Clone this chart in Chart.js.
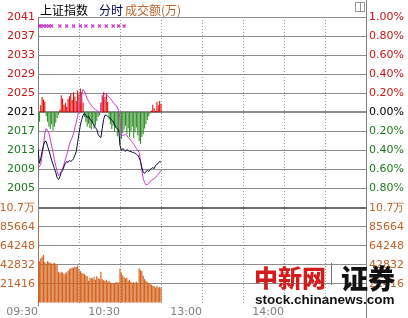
<!DOCTYPE html>
<html>
<head>
<meta charset="utf-8">
<script src="https://cdn.jsdelivr.net/npm/chart.js@4.4.1/dist/chart.umd.min.js"></script>
<style>
  body { margin: 0; background: #fff; }
  #wrap { position: relative; width: 408px; height: 318px; overflow: hidden; }
  #wrap canvas { position: absolute; left: 0; top: 0; }
  .t { position: absolute; white-space: nowrap; line-height: 1; }
</style>
</head>
<body>
<div id="wrap">
  <canvas id="fenshi" width="408" height="318"></canvas>
  <div class="t" style="left:40px;top:1px;font:12px 'Noto Sans CJK SC';color:#000;">上证指数</div>
  <div class="t" style="left:99px;top:1px;font:12px 'Noto Sans CJK SC';color:#00005a;">分时</div>
  <div class="t" style="left:125px;top:1px;font:12px 'Noto Sans CJK SC';color:#b8662e;">成交额(万)</div>
  <div class="t" style="left:254px;top:259px;font:900 24px 'Noto Sans CJK SC';color:#d41c1c;">中新网</div>
  <div class="t" style="left:331px;top:263px;width:1px;height:22px;background:#777;"></div>
  <div class="t" style="left:341px;top:258px;font:900 27px 'Noto Sans CJK SC';color:#111;">证券</div>
  <div class="t" style="left:255px;top:292px;font:bold 13.5px 'Liberation Sans';color:#111;">stock.chinanews.com</div>
</div>
<script>
// minutes after 09:30 (11:30 and 13:00 share the same slot)
const timeLabels = { 0: '09:30', 60: '10:30', 120: '13:00', 180: '14:00' };
const prevClose = 2021;

// 上证指数 (black line)
const indexLine = [
  2013.4, 2010.3, 2011.3, 2012.8, 2014.1, 2014.9, 2014.9, 2013.9, 2013.0, 2012.0,
  2010.9, 2010.1, 2009.2, 2008.4, 2007.3, 2006.9, 2007.5, 2008.4, 2008.8, 2009.6,
  2010.3, 2010.7, 2010.5, 2010.9, 2010.7, 2010.9, 2011.3, 2012.0, 2012.8, 2014.7,
  2016.6, 2018.3, 2019.5, 2020.4, 2020.8, 2020.4, 2019.9, 2020.2, 2019.5, 2019.3,
  2018.7, 2018.3, 2017.8, 2017.4, 2016.4, 2015.9, 2015.7, 2017.6, 2019.5, 2020.4,
  2020.4, 2020.2, 2019.9, 2019.7, 2019.3, 2019.1, 2018.5, 2017.8, 2017.6, 2017.4,
  2014.1, 2013.0, 2013.4, 2013.2, 2012.8, 2013.2, 2013.0, 2012.8, 2012.8, 2012.6,
  2012.6, 2012.4, 2012.2, 2012.0, 2011.5, 2010.7, 2009.4, 2008.4, 2008.2, 2008.6,
  2008.8, 2008.6, 2009.0, 2009.2, 2009.4, 2009.2, 2009.8, 2010.1, 2010.3, 2010.7, 2010.5
];

// magenta line
const leadLine = [
  2009.8, 2009.6, 2010.1, 2012.0, 2013.9, 2016.6, 2017.6, 2017.2, 2016.6, 2015.3,
  2013.9, 2012.6, 2011.1, 2009.8, 2008.6, 2007.7, 2008.2, 2008.6, 2009.2, 2010.1,
  2011.1, 2012.0, 2013.2, 2014.3, 2015.1, 2015.7, 2016.6, 2017.8, 2018.9, 2020.2,
  2021.4, 2023.7, 2025.0, 2025.8, 2025.4, 2024.6, 2023.9, 2023.3, 2022.9, 2022.5,
  2022.1, 2021.8, 2021.6, 2021.4, 2021.2, 2020.8, 2021.4, 2023.3, 2024.6, 2025.0,
  2024.8, 2024.4, 2024.2, 2023.9, 2023.5, 2023.1, 2022.7, 2022.5, 2022.1, 2021.4,
  2019.7, 2015.9, 2016.2, 2016.2, 2016.4, 2016.2, 2015.7, 2015.5, 2015.1, 2014.7,
  2014.3, 2013.9, 2013.4, 2013.0, 2012.6, 2010.9, 2008.8, 2007.1, 2006.3, 2005.8,
  2005.8, 2006.1, 2006.5, 2006.7, 2006.9, 2007.1, 2007.3, 2007.7, 2008.0, 2008.4, 2008.8
];

// red/green bars, points above/below previous close
const strength = [
  -3.4, -2.0, 1.5, 3.2, 2.7, 2.2, -0.8, -2.0, -3.0, -3.5,
  -2.5, -3.8, -3.0, -2.2, -1.2, -0.5, 0.6, 3.6, 2.9, 1.6,
  2.0, 1.2, 2.8, 3.4, 4.0, 2.6, 4.2, 3.3, 2.4, 4.6,
  3.8, 5.0, 4.2, 2.0, -1.0, -2.0, -3.0, -2.4, -3.3, -3.6,
  -2.2, -3.4, -2.8, -1.8, -1.0, -0.6, 2.0, 3.6, 4.2, 3.2,
  4.0, 2.2, -1.5, -2.5, -3.5, -2.8, -4.0, -3.2, -5.0, -4.2,
  -6.8, -5.6, -4.4, -3.6, -2.8, -4.5, -3.4, -5.2, -4.0, -3.0,
  -5.4, -4.2, -3.2, -4.8, -6.0, -6.6, -5.2, -4.6, -3.4, -2.5,
  -1.6, -0.8, -0.3, 0.4, 1.6, 0.8, 0.3, 2.2, 1.5, 2.4, 1.8
];

// 成交额(万)
const turnover = [
  98000, 47000, 50000, 52000, 54000, 46000, 44000, 47000, 46000, 45000,
  44500, 44000, 45000, 44000, 43000, 35000, 34000, 35000, 34000, 32000,
  33000, 34500, 36000, 38000, 39000, 39500, 40000, 41000, 40500, 42000,
  38000, 36000, 34000, 33000, 32500, 31000, 30000, 25000, 28000, 28500,
  27500, 29500, 26000, 30000, 28000, 27000, 35000, 27000, 25500, 24800,
  26000, 24000, 25000, 23000, 22500, 22500, 21500, 23500, 23000, 23000,
  38500, 34000, 31000, 29000, 27500, 28500, 25000, 26000, 23500, 22500,
  23500, 22500, 24000, 22000, 39000, 37000, 36000, 30500, 27000, 25000,
  23500, 22500, 21500, 20500, 19500, 19000, 17500, 19000, 17500, 18000, 17000
];

// signal marks along the top
const signalMinutes = [1, 2, 4, 6, 8, 10, 16, 21, 26, 31, 35, 40, 45, 50, 55, 59, 63];
const signalLevel = 2039.1;

const volMax = 107080;
const volStep = 21416;

const RED = '#cc1414';
const GREEN = '#1f7a1f';
const BROWN = '#c0632a';
const tickFont = { family: 'DejaVu Sans', size: 11 };

function priceColor(v) {
  if (Math.abs(v - prevClose) < 0.01) return '#000';
  return v > prevClose ? RED : GREEN;
}
function pctColor(v) {
  if (Math.abs(v) < 0.001) return '#000';
  return v > 0 ? RED : GREEN;
}
function volLabel(v) {
  if (v === 0) return '';
  return v >= 100000 ? (v / 10000).toFixed(1) + '万' : String(v);
}

const frame = {
  id: 'frame',
  afterDraw(chart) {
    const { ctx, chartArea: a } = chart;
    ctx.save();
    ctx.strokeStyle = '#808080';
    ctx.lineWidth = 1;
    ctx.beginPath();
    ctx.moveTo(Math.round(a.right) + 0.5, 0);
    ctx.lineTo(Math.round(a.right) + 0.5, 318);
    ctx.moveTo(Math.round(a.left) + 0.5, a.bottom);
    ctx.lineTo(Math.round(a.left) + 0.5, a.bottom + 3);
    ctx.stroke();
    // small window icon top right
    ctx.strokeStyle = '#999';
    ctx.strokeRect(355.5, 2.5, 9, 9);
    ctx.beginPath();
    ctx.moveTo(360.5, 2.5);
    ctx.lineTo(360.5, 11.5);
    ctx.stroke();
    ctx.restore();
  }
};

document.addEventListener('DOMContentLoaded', function () {
  const canvas = document.getElementById('fenshi');
  const ctx = canvas.getContext('2d');

  new Chart(ctx, {
    type: 'bar',
    data: {
      datasets: [
        {
          type: 'scatter',
          data: signalMinutes.map(m => ({ x: m, y: signalLevel })),
          yAxisID: 'yP',
          pointStyle: 'crossRot',
          pointRadius: 2.2,
          borderColor: '#c83cc8',
          borderWidth: 1.2,
          order: 0
        },
        {
          type: 'line',
          data: indexLine.map((v, i) => ({ x: i, y: v })),
          yAxisID: 'yP',
          borderColor: '#0a0a3c',
          borderWidth: 1,
          pointRadius: 0,
          tension: 0,
          order: 1
        },
        {
          type: 'line',
          data: leadLine.map((v, i) => ({ x: i, y: v })),
          yAxisID: 'yP',
          borderColor: '#c83cc8',
          borderWidth: 1,
          pointRadius: 0,
          tension: 0,
          order: 2
        },
        {
          type: 'bar',
          data: strength.map((d, i) => ({ x: i, y: [prevClose, prevClose + d] })),
          yAxisID: 'yP',
          backgroundColor: strength.map(d => d >= 0 ? '#e00000' : '#2a8a22'),
          grouped: false,
          barPercentage: 0.75,
          categoryPercentage: 1,
          order: 3
        },
        {
          type: 'bar',
          data: turnover.map((v, i) => ({ x: i, y: v })),
          yAxisID: 'yV',
          backgroundColor: '#d4621c',
          grouped: false,
          barPercentage: 0.85,
          categoryPercentage: 1,
          order: 4
        }
      ]
    },
    options: {
      responsive: false,
      animation: false,
      layout: { padding: { top: 17, left: 0, right: 0, bottom: 0 } },
      plugins: { legend: { display: false }, tooltip: { enabled: false } },
      scales: {
        x: {
          type: 'linear',
          min: 0,
          max: 240,
          offset: false,
          afterFit: s => { s.height = 15; },
          ticks: {
            stepSize: 30,
            autoSkip: false,
            maxRotation: 0,
            align: 'end',
            padding: 3,
            color: '#808080',
            font: tickFont,
            callback: v => timeLabels[v] || ''
          },
          grid: { color: '#9a9a9a', drawTicks: false, offset: false },
          border: { display: false, dash: [1, 2] }
        },
        yP: {
          type: 'linear',
          position: 'left',
          stack: 'left',
          stackWeight: 2,
          weight: 2,
          min: 2001,
          max: 2041,
          afterFit: s => { s.width = 38; },
          ticks: {
            stepSize: 4,
            autoSkip: false,
            padding: 3,
            font: tickFont,
            color: c => priceColor(c.tick.value),
            callback: v => v === 2001 ? '' : String(v)
          },
          grid: {
            drawTicks: false,
            color: c => c.tick && c.tick.value === 2001 ? '#6e6e6e' : '#8c8c8c',
            lineWidth: c => c.tick && (c.tick.value === prevClose || c.tick.value === 2001) ? 2 : 1
          },
          border: { color: '#808080' }
        },
        yV: {
          type: 'linear',
          position: 'left',
          stack: 'left',
          stackWeight: 1,
          weight: 1,
          min: 0,
          max: volMax,
          afterFit: s => { s.width = 38; },
          ticks: {
            stepSize: volStep,
            autoSkip: false,
            padding: 3,
            font: tickFont,
            color: BROWN,
            callback: volLabel
          },
          grid: {
            drawTicks: false,
            color: c => c.tick && c.tick.value === 0 ? 'rgba(0,0,0,0)' : (c.tick && c.tick.value === volMax ? '#6e6e6e' : '#8c8c8c'),
            lineWidth: c => c.tick && c.tick.value === volMax ? 2 : 1
          },
          border: { color: '#808080' }
        },
        yPr: {
          type: 'linear',
          position: 'right',
          stack: 'right',
          stackWeight: 2,
          weight: 1,
          min: -1,
          max: 1,
          afterFit: s => { s.width = 42; },
          ticks: {
            stepSize: 0.2,
            autoSkip: false,
            padding: 3,
            font: tickFont,
            color: c => pctColor(c.tick.value),
            callback: v => v < -0.99 ? '' : Math.abs(v).toFixed(2) + '%'
          },
          grid: { display: false, drawTicks: false },
          border: { display: false }
        },
        yVr: {
          type: 'linear',
          position: 'right',
          stack: 'right',
          stackWeight: 1,
          weight: 2,
          min: 0,
          max: volMax,
          afterFit: s => { s.width = 42; },
          ticks: {
            stepSize: volStep,
            autoSkip: false,
            padding: 3,
            font: tickFont,
            color: BROWN,
            callback: volLabel
          },
          grid: { display: false, drawTicks: false },
          border: { display: false }
        }
      }
    },
    plugins: [frame]
  });
});
</script>
</body>
</html>
